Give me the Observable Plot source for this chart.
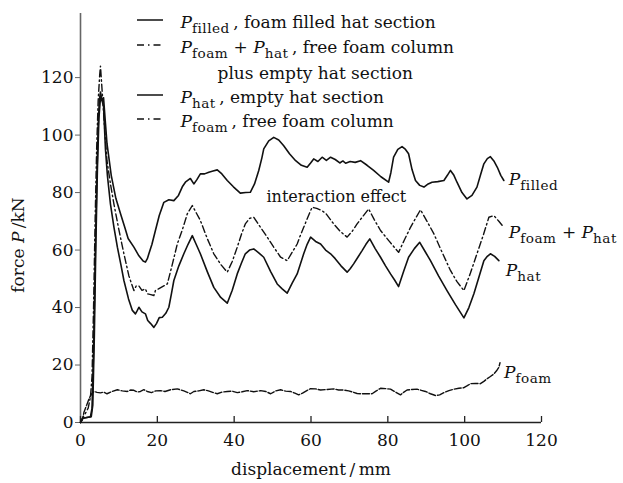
<!DOCTYPE html>
<html>
<head>
<meta charset="utf-8">
<script src="https://cdn.jsdelivr.net/npm/d3@7"></script>
<script src="https://cdn.jsdelivr.net/npm/@observablehq/plot@0.6"></script>
<style>
  body { margin: 0; background: #fff; }
  #chart svg { display: block; }
</style>
</head>
<body>
<div id="chart"></div>
<script>
// Tick values (displacement in mm, force in kN)
const xTicks = [0, 20, 40, 60, 80, 100, 120];
const yTicks = [0, 20, 40, 60, 80, 100, 120];

// Force–displacement curves: [displacement mm, force kN]
const pFilled = [[0,0],[0.6,1.5],[2.6,2],[3.0,5],[3.4,25],[3.8,55],[4.2,82],[4.6,103],[4.9,112],[5.2,115],[5.6,112],[6.0,113],[6.5,104],[6.9,97],[8.0,86],[9.2,78],[10.4,72.7],[11.5,68],[12.4,64],[13.9,61],[15.2,58],[16.3,56.2],[16.9,55.8],[17.4,57],[17.8,58.7],[18.6,62],[19.5,66.8],[20.5,72],[21.7,76.6],[23.0,77.5],[24.3,77.2],[25.5,79],[26.5,82],[27.3,83.6],[28.6,84.9],[29.5,83],[30.3,84.5],[31.2,86.5],[32.3,86.5],[33.4,87.1],[34.5,87.5],[35.6,87.9],[36.8,86.5],[38.2,84.2],[39.8,82],[41.6,79.8],[43.0,80],[44.2,80.1],[45.3,83],[46.4,87.7],[47.2,92],[47.7,95.2],[49.0,98],[50.3,99.2],[51.6,98.3],[52.9,96.3],[54.4,93.5],[56.0,91.1],[57.5,89.5],[59.0,88.8],[59.9,90.3],[60.7,91.7],[61.8,90.8],[62.9,92.3],[64.0,91.2],[65.1,92.3],[66.3,91.5],[67.5,90.3],[68.3,91],[69.0,90.2],[70.2,90.8],[71.5,90.5],[72.9,91.1],[74.6,89.5],[76.3,87.7],[78.2,85.5],[80.2,83.6],[80.8,87],[81.5,92.3],[82.6,95],[83.7,96],[84.6,95],[85.4,93.5],[86.3,88],[87.2,84.2],[88.3,82.5],[89.4,81.9],[90.5,83],[91.5,83.6],[93.0,83.8],[94.6,84.2],[95.5,86],[96.3,87.7],[97.2,86],[98.0,83.6],[99.3,80],[100.6,77.8],[101.9,79],[103.2,81.9],[104.1,86],[105.0,90],[105.9,91.8],[106.7,92.5],[107.6,91],[108.5,88.8],[109.4,86],[110.2,84.2]];

const pFoamPlusHat = [[0,0],[0.5,1.5],[1.2,3],[2.0,5],[2.6,9],[3.0,16],[3.4,40],[3.8,70],[4.2,95],[4.6,112],[5.0,121],[5.2,124],[5.5,118],[5.9,110],[6.4,100],[6.9,91],[7.8,83],[8.7,76],[10.0,67],[11.3,58.7],[12.6,51],[13.9,45.9],[14.5,47.5],[15.2,47.5],[16.0,46],[16.9,46.5],[17.4,44.8],[18.3,44.5],[19.1,44.2],[19.5,45.9],[21.0,47],[22.6,48.2],[23.9,55],[25.2,62.1],[26.5,67],[27.8,72.6],[29.1,75.5],[30.1,73],[31.2,70.3],[33.0,64],[34.7,58.7],[36.5,55],[38.2,52.3],[39.5,56],[40.8,61],[41.9,65.5],[42.9,69.1],[44.0,71],[45.1,71.4],[46.8,68],[48.6,64.5],[50.3,61],[52.1,57.5],[53.8,56.3],[55.0,59],[56.4,62.1],[57.2,65],[58.1,67.9],[59.2,71.5],[60.3,74.9],[61.5,74.5],[62.9,73.7],[64.0,72.5],[65.9,69.1],[67.6,66.5],[69.4,64.5],[70.7,66.5],[72.0,69.1],[73.5,71.7],[75.0,74.3],[76.5,70.5],[78.1,66.8],[80.4,63],[82.8,59.2],[84.3,63.5],[85.9,67.9],[87.2,71],[88.5,74],[90.2,70],[92.0,65.6],[94.2,59],[96.3,52.9],[98.0,49],[99.8,45.9],[101.5,52],[103.2,58.7],[104.8,65],[106.3,71.4],[107.6,72],[108.9,70],[110.2,67.9]];

const pHat = [[0,0],[0.6,1.5],[2.8,2],[3.2,6],[3.6,30],[4.0,62],[4.4,88],[4.8,106],[5.2,113],[5.6,112],[6.0,110],[6.5,95],[7.0,86],[7.8,76],[8.7,68],[9.6,61],[10.5,55],[11.3,49.4],[12.5,43],[13.5,39],[14.3,37.8],[14.8,39],[15.2,40.1],[16.0,38.5],[16.9,37.8],[17.5,35.5],[18.2,34.5],[19.1,33.1],[19.8,34.5],[20.5,36.5],[21.3,36.6],[22.2,38],[23.0,40.1],[23.7,45],[24.3,49.4],[25.6,54.5],[26.9,58.7],[28.0,62],[29.1,65],[30.1,62],[31.2,58.7],[33.0,52.5],[34.7,47],[36.5,43.5],[38.2,41.5],[39.5,46],[40.8,51.7],[41.9,55.5],[42.9,58.7],[44.0,60],[45.1,60.4],[46.4,59],[47.7,57.5],[49.5,52.5],[51.2,48.2],[52.5,46.5],[53.8,45],[55.1,48.5],[56.4,51.7],[57.2,55],[58.1,58.7],[59.0,62],[59.9,64.5],[61.2,63],[62.5,62.1],[63.8,60],[65.1,58.7],[66.3,57],[67.8,54.5],[69.4,52.3],[70.2,53.5],[71.1,55.2],[72.2,57.5],[73.3,59.8],[74.3,62],[75.3,63.9],[76.7,60.5],[78.1,57.5],[79.4,54.5],[80.7,51.7],[81.8,49.5],[82.8,47.3],[84.1,52.5],[85.4,57.5],[86.9,60.5],[88.3,62.7],[89.7,59.5],[91.1,56.3],[93.2,51],[95.4,45.9],[97.6,41],[99.8,36.4],[101.1,40],[102.4,44.8],[103.7,50.5],[105.0,56.3],[105.9,57.8],[106.7,58.7],[107.8,57.8],[108.9,56.3]];

const pFoam = [[0,0],[0.5,1],[0.9,3.6],[1.6,6],[2.2,8.2],[2.8,9.8],[3.5,10.8],[4.3,10.5],[5.2,10.3],[6.0,10.6],[6.9,10],[8.2,10.8],[9.6,11.4],[10.9,11],[12.2,10.8],[13.0,11.3],[13.9,11.2],[14.8,10.6],[15.6,10.8],[16.5,11.4],[17.4,10.8],[18.5,10.4],[19.6,11],[20.8,11.1],[22.0,10.8],[23.5,11.4],[25.2,11.7],[26.9,11],[28.0,10.4],[28.6,10],[29.5,10.8],[30.8,11],[32.1,11.4],[33.3,11],[34.6,10.4],[35.6,10],[36.9,10.6],[38.2,10.8],[39.5,10.9],[40.8,10.4],[42.1,10.7],[43.4,11.1],[45.1,10.7],[46.9,11.1],[48.2,10.8],[49.5,10],[50.8,11],[52.1,11.4],[53.4,10.9],[54.7,10.8],[55.8,10.2],[56.8,9.6],[57.8,10.2],[58.8,11],[59.9,11.8],[61.2,11.7],[62.5,11.3],[64.2,11.5],[65.9,11.7],[67.2,11.3],[68.5,11.3],[69.8,11],[71.1,10.5],[72.0,10.1],[72.9,10],[74.4,10],[75.9,10],[76.9,10.9],[78.1,11.9],[79.4,11.8],[80.7,11.6],[82.0,10.6],[83.3,9.6],[84.1,10.5],[85.0,11.3],[86.3,11.5],[87.6,11.6],[88.7,11.2],[89.8,10.8],[91.1,10],[92.4,9.4],[93.5,9.6],[94.6,10.4],[95.9,11.1],[97.2,11.6],[98.5,11.9],[99.8,12.1],[100.7,12.8],[101.5,13.5],[102.8,13.6],[104.1,13.5],[105.0,14.3],[105.8,15.2],[106.7,16],[107.6,16.9],[108.3,18],[108.9,19.2],[109.2,20.8]];

// Curve labels use *...* for italics and _{...} for subscripts
const seriesLabels = ["*P*_{filled}", "*P*_{foam} + *P*_{hat}", "*P*_{hat}", "*P*_{foam}"];
const legendLabels = [
  "*P*_{filled}\u2009, foam filled hat section",
  "*P*_{foam} + *P*_{hat}\u2009, free foam column",
  "plus empty hat section",
  "*P*_{hat}\u2009, empty hat section",
  "*P*_{foam}\u2009, free foam column"
];
const annotation = "interaction effect";
const xLabel = "displacement\u2009/\u2009mm";
const yLabel = "force *P*\u2009/kN";

const dashDot = "7,3,1.5,3";
const dashed = "7,2";

const series = [
  {data: pFilled, label: seriesLabels[0], dash: null, dx: 5, dy: 5},
  {data: pFoamPlusHat, label: seriesLabels[1], dash: dashDot, dx: 5, dy: 11},
  {data: pHat, label: seriesLabels[2], dash: null, dx: 7, dy: 15},
  {data: pFoam, label: seriesLabels[3], dash: dashed, dx: 4, dy: 15}
];

// Legend rows: baseline offset from the frame top, text offset, sample style
const legendRows = [
  {text: legendLabels[0], dx: 100, dy: 14, sample: "solid"},
  {text: legendLabels[1], dx: 100, dy: 39, sample: "dashdot"},
  {text: legendLabels[2], dx: 137, dy: 65, sample: null},
  {text: legendLabels[3], dx: 100, dy: 89, sample: "solid"},
  {text: legendLabels[4], dx: 100, dy: 113, sample: "dashdot"}
];

const FONT = "DejaVu Serif";
const FS = 17;

const marks = [
  Plot.ruleX([0], {stroke: "#666", strokeWidth: 1.6}),
  Plot.ruleY([0], {stroke: "#222", strokeWidth: 1.5}),
  Plot.axisY({ticks: yTicks, tickSize: 5, tickPadding: 2, label: null, fontSize: FS, stroke: "#666", fill: "#111"}),
  Plot.axisX({ticks: xTicks, tickSize: 0, tickPadding: 11, label: null, fontSize: FS, fill: "#111"}),
  Plot.ruleX(xTicks, {x: d => d, y1: 0, y2: 0, insetTop: -6, stroke: "#222", strokeWidth: 1.3}),
  ...series.map(s => Plot.line(s.data, {
    x: d => d[0], y: d => d[1], stroke: "#111", strokeWidth: s.dash ? 1.4 : 1.6,
    strokeDasharray: s.dash || undefined, curve: "linear"
  })),
  ...series.map(s => Plot.text([s.data[s.data.length - 1]], {
    x: d => d[0], y: d => d[1], text: () => s.label, textAnchor: "start",
    lineAnchor: "bottom", dx: s.dx, dy: s.dy, fontSize: FS, fill: "#111"
  })),
  Plot.text([annotation], {text: d => d, frameAnchor: "top-left", textAnchor: "start",
    lineAnchor: "bottom", dx: 186, dy: 188, fontSize: 16, fill: "#111"}),
  ...legendRows.map(r => Plot.text([r.text], {text: d => d, frameAnchor: "top-left",
    textAnchor: "start", lineAnchor: "bottom", dx: r.dx, dy: r.dy, fontSize: FS, fill: "#111"})),
  Plot.text([xLabel], {text: d => d, frameAnchor: "bottom", textAnchor: "middle",
    lineAnchor: "bottom", dy: 52, fontSize: FS, fill: "#111"}),
  Plot.text([yLabel], {text: d => d, frameAnchor: "left", textAnchor: "middle",
    lineAnchor: "bottom", rotate: -90, dx: -57, dy: 27, fontSize: FS, fill: "#111"})
];

const chart = Plot.plot({
  width: 623,
  height: 483,
  marginLeft: 80,
  marginRight: 82,
  marginTop: 13,
  marginBottom: 61,
  x: {domain: [0, 120], axis: null},
  y: {domain: [0, 142.3], axis: null},
  style: {fontFamily: FONT, fontSize: FS + "px", background: "#fff", color: "#111"},
  marks
});

document.getElementById("chart").appendChild(chart);

// Turn *P* and _{sub} markup into italic / subscript tspans
function richText(node) {
  const src = node.textContent;
  if (!/[*]|_\{/.test(src)) return;
  const size = parseFloat(getComputedStyle(node).fontSize) || FS;
  const shift = Math.round(size * 0.28);
  node.textContent = "";
  const re = /\*([^*]+)\*|_\{([^}]+)\}|([^*_]+)/g;
  let m, lowered = false;
  while ((m = re.exec(src))) {
    const t = d3.select(node).append("tspan");
    if (m[2]) {
      t.text(m[2]).attr("font-size", size * 0.8).attr("font-style", "normal")
        .attr("letter-spacing", 0.5);
      if (!lowered) { t.attr("dy", shift); lowered = true; }
    } else {
      if (m[1]) t.text(m[1]).attr("font-style", "italic");
      else t.text(m[3]);
      if (lowered) { t.attr("dy", -shift); lowered = false; }
    }
  }
}
d3.select(chart).selectAll("text").each(function () { richText(this); });

// Legend line samples, placed in the frame's top-left corner
const x0 = 80 + 57, x1 = 80 + 83;
const legendG = d3.select(chart).append("g").attr("stroke", "#111").attr("stroke-width", 1.5);
legendRows.forEach(r => {
  if (!r.sample) return;
  const y = 13 + r.dy - 7;
  legendG.append("line").attr("x1", x0).attr("x2", x1).attr("y1", y).attr("y2", y)
    .attr("stroke-dasharray", r.sample === "dashdot" ? "7,4,1.5,4" : null);
});
</script>
</body>
</html>
